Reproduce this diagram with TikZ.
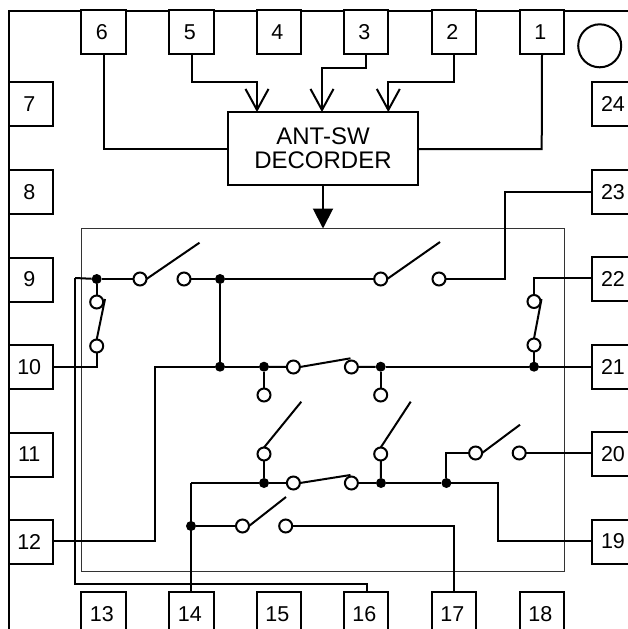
\documentclass[tikz,border=0pt]{standalone}
\usepackage{fontspec}
\setmainfont{Liberation Sans}
\usetikzlibrary{arrows.meta}
\tikzset{
  wire/.style={line width=2pt,line join=miter},
  pin/.style={draw,line width=2pt,fill=white,minimum width=44.5pt,minimum height=44pt,inner sep=0pt,outer sep=0pt,font=\fontsize{21.5}{24}\selectfont},
  contact/.style={circle,draw,line width=2pt,fill=white,minimum size=13pt,inner sep=0pt,outer sep=0pt},
  junction/.style={circle,fill=black,minimum size=10pt,inner sep=0pt,outer sep=0pt},
  openhead/.style={-{Straight Barb[length=21pt,width=23pt,line width=2pt]}},
  solidhead/.style={-{Triangle[length=20pt,width=20pt]}}
}
\newcommand{\pinlabel}[1]{\kern-3.5pt #1}
\begin{document}
\begin{tikzpicture}[x=1pt,y=-1pt]
\useasboundingbox (0,0) rectangle (628,629);
\clip (0,0) rectangle (628,629);
\fill[white] (0,0) rectangle (628,629);
% package outline and switch block
\draw[wire] (9,629) -- (9,10.5) -- (628,10.5);
\draw[line width=1pt,black!80] (81.5,228.5) rectangle (564,571);
% pins
\foreach \n/\x in {6/103.7,5/191.7,4/279.2,3/366.2,2/454,1/542}
  \node[pin] (p\n) at (\x,32) {\pinlabel{\n}};
\foreach \n/\y in {7/104.2,8/191.8,9/279.5,10/367,11/454.5,12/541.8}
  \node[pin] (p\n) at (31,\y) {\pinlabel{\n}};
\foreach \n/\y in {24/104.2,23/191.8,22/279.3,21/367,20/454,19/541.5}
  \node[pin] (p\n) at (614.7,\y) {\pinlabel{\n}};
\foreach \n/\x in {13/103.7,14/191.7,15/279.2,16/366.2,17/454,18/542}
  \node[pin] (p\n) at (\x,614) {\pinlabel{\n}};
\node[circle,draw,line width=2pt,minimum size=43pt,inner sep=0pt] (mark) at (599.7,45.8) {};
% decoder
\node[draw,line width=2pt,minimum width=190pt,minimum height=72.5pt,inner sep=0pt,outer sep=0pt,align=center,
  font=\fontsize{24}{24}\selectfont] (dec) at (323,148.3) {ANT-SW\\DECORDER};
% contacts
\foreach \n/\x/\y in {a1/140/279,a2/184/279,k1/380.7/279,k2/439/279,
  c1/96.7/302,c2/96.7/346,d1/534/301.5,d2/534/345,
  e1/293.4/367,e2/351.4/367,e3/264/395,e4/380.7/395,
  f1/264/454,f2/380.7/454,
  g1/293.4/483,g2/351.4/483,
  h1/242.5/526,h2/285.7/526,
  i1/475.6/453,i2/519.2/453}
  \node[contact] (\n) at (\x,\y) {};
% junctions
\foreach \n/\x/\y in {j1/96.7/279,j2/220/279,j3/220/366.7,j4/264/366.7,j5/380.7/366.7,j6/534/366.7,
  j7/264/483,j8/381/483,j9/446.4/483,j10/191/526}
  \node[junction] (\n) at (\x,\y) {};
% free ends and bends
\coordinate (q5) at (257,82);
\coordinate (q3) at (322,68);
\coordinate (q2) at (388.3,82);
\coordinate (q6) at (104,149);
\coordinate (q1) at (541.7,149);
\coordinate (q23) at (505,192);
\coordinate (r9) at (75,278);
\coordinate (r16) at (367,584);
\coordinate (q12) at (155,541.3);
\coordinate (q22) at (534,278);
\coordinate (q14) at (191,483);
\coordinate (q19) at (498,483);
\coordinate (q19b) at (498,541.3);
\coordinate (q20) at (446.4,453);
\coordinate (q17) at (454,526);
\coordinate (ta1) at (199.5,242.7);
\coordinate (tk1) at (440,242);
\coordinate (tc) at (105,299);
\coordinate (td) at (541.5,299);
\coordinate (te) at (350.5,358.3);
\coordinate (tf1) at (301.3,401.7);
\coordinate (tf2) at (410.7,401.7);
\coordinate (tg) at (350.5,475);
\coordinate (th) at (286,497);
\coordinate (ti) at (520,424.7);
% decoder inputs
\draw[wire] (p6.south -| q6) -- (q6) -- (q6 -| dec.west);
\draw[wire,openhead] (p5.south) |- (q5) -- (q5 |- dec.north);
\draw[wire,openhead] (p3.south) |- (q3) -- (q3 |- dec.north);
\draw[wire,openhead] (p2.south) |- (q2) -- (q2 |- dec.north);
\draw[wire] (p1.south) -- (q1) -- (q1 -| dec.east);
\draw[wire,solidhead] (dec.south) -- (dec.south |- 0,228.5);
% switch wiring
\draw[wire] (p23.west |- q23) -- (q23) |- (k2);
\draw[wire] (r9) -- (j1);
\draw[wire] (j1) -- (a1);
\draw[wire] (r9) |- (r16) -- (r16 |- p16.north);
\draw[wire] (a2) -- (j2);
\draw[wire] (j2) -- (k1);
\draw[wire] (j2) -- (j3);
\draw[wire] (j1) -- (c1);
\draw[wire] (p10.east) -| (c2);
\draw[wire] (p12.east |- q12) -- (q12) |- (j3);
\draw[wire] (j3) -- (j4);
\draw[wire] (j4) -- (e1);
\draw[wire] (j4) -- (e3);
\draw[wire] (e2) -- (j5);
\draw[wire] (j5) -- (e4);
\draw[wire] (j5) -- (j6);
\draw[wire] (j6) -- (j6 -| p21.west);
\draw[wire] (j6) -- (d2);
\draw[line width=1.7pt] (q22 -| p22.west) -- (q22) -- (d1);
\draw[wire] (f1) -- (j7);
\draw[wire] (f2) -- (j8);
\draw[wire] (q14) -- (j7);
\draw[wire] (j7) -- (g1);
\draw[wire] (g2) -- (j8);
\draw[wire] (j8) -- (j9);
\draw[wire] (q14) -- (q14 |- p14.north);
\draw[wire] (j10) -- (h1);
\draw[wire] (h2) -- (q17) -- (q17 |- p17.north);
\draw[wire] (j9) -- (q19) -- (q19b) -- (q19b -| p19.west);
\draw[wire] (j9) -- (q20) -- (i1);
\draw[wire] (i2) -- (i2 -| p20.west);
% switch blades
\draw[wire] (a1.east) -- (ta1);
\draw[wire] (k1.east) -- (tk1);
\draw[wire] (c2.north) -- (tc);
\draw[wire] (d2.north) -- (td);
\draw[wire] (e1.east) -- (te);
\draw[wire] (f1.north) -- (tf1);
\draw[wire] (f2.north) -- (tf2);
\draw[wire] (g1.east) -- (tg);
\draw[wire] (h1.east) -- (th);
\draw[wire] (i1.east) -- (ti);
\end{tikzpicture}
\end{document}
